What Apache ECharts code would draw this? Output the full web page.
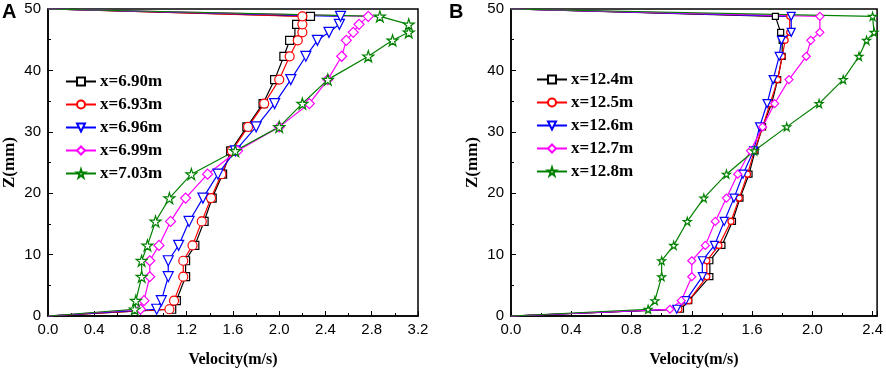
<!DOCTYPE html>
<html>
<head>
<meta charset="utf-8">
<script src="https://cdn.jsdelivr.net/npm/echarts@6/dist/echarts.min.js"></script>
<style>
  html, body { margin: 0; padding: 0; background: #fff; }
  #chart { width: 886px; height: 373px; }
</style>
</head>
<body>
<div id="chart"></div>
<script>
// depth levels (mm), bottom to top
var zA = [0, 1.1, 2.5, 6.4, 9.0, 11.5, 15.4, 19.2, 23.1, 26.9, 30.8, 34.6, 38.5, 42.3, 44.9, 46.2, 47.5, 48.8, 50];
var zB = [0, 1.1, 2.5, 6.4, 9.0, 11.5, 15.4, 19.2, 23.1, 26.9, 30.8, 34.6, 38.5, 42.3, 44.9, 46.2, 48.8, 50];

// panel A velocities (m/s)
var namesA = ['x=6.90m', 'x=6.93m', 'x=6.96m', 'x=6.99m', 'x=7.03m'];
var vA690 = [0, 1.07, 1.11, 1.19, 1.19, 1.27, 1.35, 1.42, 1.51, 1.58, 1.72, 1.86, 1.96, 2.04, 2.09, 2.17, 2.15, 2.27, 0];
var vA693 = [0, 1.05, 1.09, 1.17, 1.17, 1.25, 1.33, 1.41, 1.50, 1.59, 1.73, 1.87, 2.00, 2.09, 2.16, 2.20, 2.20, 2.20, 0];
var vA696 = [0, 0.94, 0.98, 1.04, 1.04, 1.13, 1.22, 1.34, 1.47, 1.62, 1.80, 1.96, 2.10, 2.23, 2.33, 2.43, 2.52, 2.53, 0];
var vA699 = [0, 0.80, 0.83, 0.88, 0.88, 0.96, 1.06, 1.19, 1.38, 1.64, 2.00, 2.26, 2.42, 2.54, 2.58, 2.64, 2.69, 2.77, 0];
var vA703 = [0, 0.75, 0.76, 0.81, 0.81, 0.86, 0.93, 1.05, 1.24, 1.62, 2.00, 2.20, 2.42, 2.77, 2.98, 3.12, 3.12, 2.87, 0];

// panel B velocities (m/s)
var namesB = ['x=12.4m', 'x=12.5m', 'x=12.6m', 'x=12.7m', 'x=12.8m'];
var vB124 = [0, 1.125, 1.18, 1.32, 1.32, 1.40, 1.47, 1.52, 1.58, 1.62, 1.67, 1.73, 1.77, 1.80, 1.80, 1.79, 1.755, 0];
var vB125 = [0, 1.115, 1.18, 1.30, 1.30, 1.38, 1.46, 1.515, 1.57, 1.615, 1.67, 1.72, 1.77, 1.80, 1.82, 1.85, 1.85, 0];
var vB126 = [0, 1.10, 1.16, 1.27, 1.27, 1.35, 1.415, 1.48, 1.54, 1.61, 1.65, 1.70, 1.74, 1.78, 1.795, 1.86, 1.86, 0];
var vB127 = [0, 1.055, 1.13, 1.20, 1.20, 1.29, 1.356, 1.43, 1.505, 1.59, 1.67, 1.75, 1.845, 1.96, 1.99, 2.05, 2.05, 0];
var vB128 = [0, 0.91, 0.955, 1.00, 1.00, 1.08, 1.17, 1.28, 1.43, 1.615, 1.83, 2.045, 2.205, 2.31, 2.36, 2.41, 2.40, 0];

var colors = ['#000000', '#ff0000', '#0000ff', '#ff00ff', '#008000'];
var starPath = 'path://M50,0 L61,35 L98,35 L68,57 L79,91 L50,70 L21,91 L32,57 L2,35 L39,35 Z';
var triDown = 'path://M0,0 L20,0 L10,17 Z';
var symbols = ['rect', 'circle', triDown, 'diamond', starPath];
var sizesA = [8, 9, 10, 10, 11];
var sizesB = [6, 6, 8, 8, 8];

var chart = echarts.init(document.getElementById('chart'));

// wall points (first and last) are drawn without a marker
function pairs(vel, z) {
  return vel.map(function (v, i) {
    if (i === 0 || i === vel.length - 1) {
      return { value: [v, z[i]], symbol: 'none' };
    }
    return [v, z[i]];
  });
}

function makeSeries(names, vels, z, sizes, idx) {
  return names.map(function (n, i) {
    return {
      name: n,
      type: 'line',
      xAxisIndex: idx,
      yAxisIndex: idx,
      data: pairs(vels[i], z),
      symbol: symbols[i],
      symbolSize: sizes[i],
      showAllSymbol: true,
      clip: false,
      lineStyle: { color: colors[i], width: 1.2 },
      itemStyle: { color: '#fff', borderColor: colors[i], borderWidth: 1.2 },
      emphasis: { disabled: true },
      animation: false
    };
  });
}

var serif = 'Liberation Serif';
var sans = 'Liberation Sans';

function xAxis(idx, max) {
  return {
    gridIndex: idx,
    type: 'value',
    min: 0,
    max: max,
    interval: 0.4,
    name: 'Velocity(m/s)',
    nameLocation: 'middle',
    nameGap: 36,
    nameTextStyle: { fontFamily: serif, fontWeight: 'bold', fontSize: 16, color: '#000' },
    axisLine: { show: true, lineStyle: { color: '#000', width: 1.5 } },
    axisTick: { show: true, inside: true, length: 5, lineStyle: { color: '#000', width: 1 } },
    minorTick: { show: true, splitNumber: 2, length: 3, lineStyle: { color: '#000', width: 1 } },
    axisLabel: {
      fontFamily: sans, fontSize: 15, color: '#000', margin: 6,
      showMaxLabel: max === 3.2,
      formatter: function (v) { return v.toFixed(1); }
    },
    splitLine: { show: false }
  };
}

function yAxis(idx) {
  return {
    gridIndex: idx,
    type: 'value',
    min: 0,
    max: 50,
    interval: 10,
    name: 'Z(mm)',
    nameLocation: 'middle',
    nameGap: 30,
    nameTextStyle: { fontFamily: serif, fontWeight: 'bold', fontSize: 17, color: '#000' },
    axisLine: { show: true, lineStyle: { color: '#000', width: 1.5 } },
    axisTick: { show: true, inside: true, length: 5, lineStyle: { color: '#000', width: 1 } },
    minorTick: { show: true, splitNumber: 2, length: 3, lineStyle: { color: '#000', width: 1 } },
    axisLabel: { fontFamily: sans, fontSize: 15, color: '#000', margin: 7 },
    splitLine: { show: false }
  };
}

function legend(names, left, top) {
  return {
    data: names,
    orient: 'vertical',
    left: left,
    top: top,
    itemWidth: 30,
    itemHeight: 10,
    itemGap: 6,
    padding: 0,
    textStyle: { fontFamily: serif, fontWeight: 'bold', fontSize: 17, color: '#000', padding: [0, 0, 0, -1] }
  };
}

var option = {
  backgroundColor: '#fff',
  animation: false,
  title: [
    { text: 'A', left: 2, top: 2, padding: 0, textStyle: { fontFamily: sans, fontWeight: 'bold', fontSize: 20, color: '#000' } },
    { text: 'B', left: 449, top: 2, padding: 0, textStyle: { fontFamily: sans, fontWeight: 'bold', fontSize: 20, color: '#000' } }
  ],
  grid: [
    { left: 48, top: 9, width: 370, height: 307, show: true, borderColor: '#000', borderWidth: 1.5, backgroundColor: 'transparent' },
    { left: 511, top: 9, width: 369, height: 307, show: true, borderColor: '#000', borderWidth: 1.5, backgroundColor: 'transparent' }
  ],
  legend: [legend(namesA, 65, 73), legend(namesB, 536, 71)],
  xAxis: [xAxis(0, 3.2), xAxis(1, 2.43)],
  yAxis: [yAxis(0), yAxis(1)],
  series: makeSeries(namesA, [vA690, vA693, vA696, vA699, vA703], zA, sizesA, 0)
    .concat(makeSeries(namesB, [vB124, vB125, vB126, vB127, vB128], zB, sizesB, 1))
};

chart.setOption(option);
window.addEventListener('resize', chart.resize);
</script>
</body>
</html>
